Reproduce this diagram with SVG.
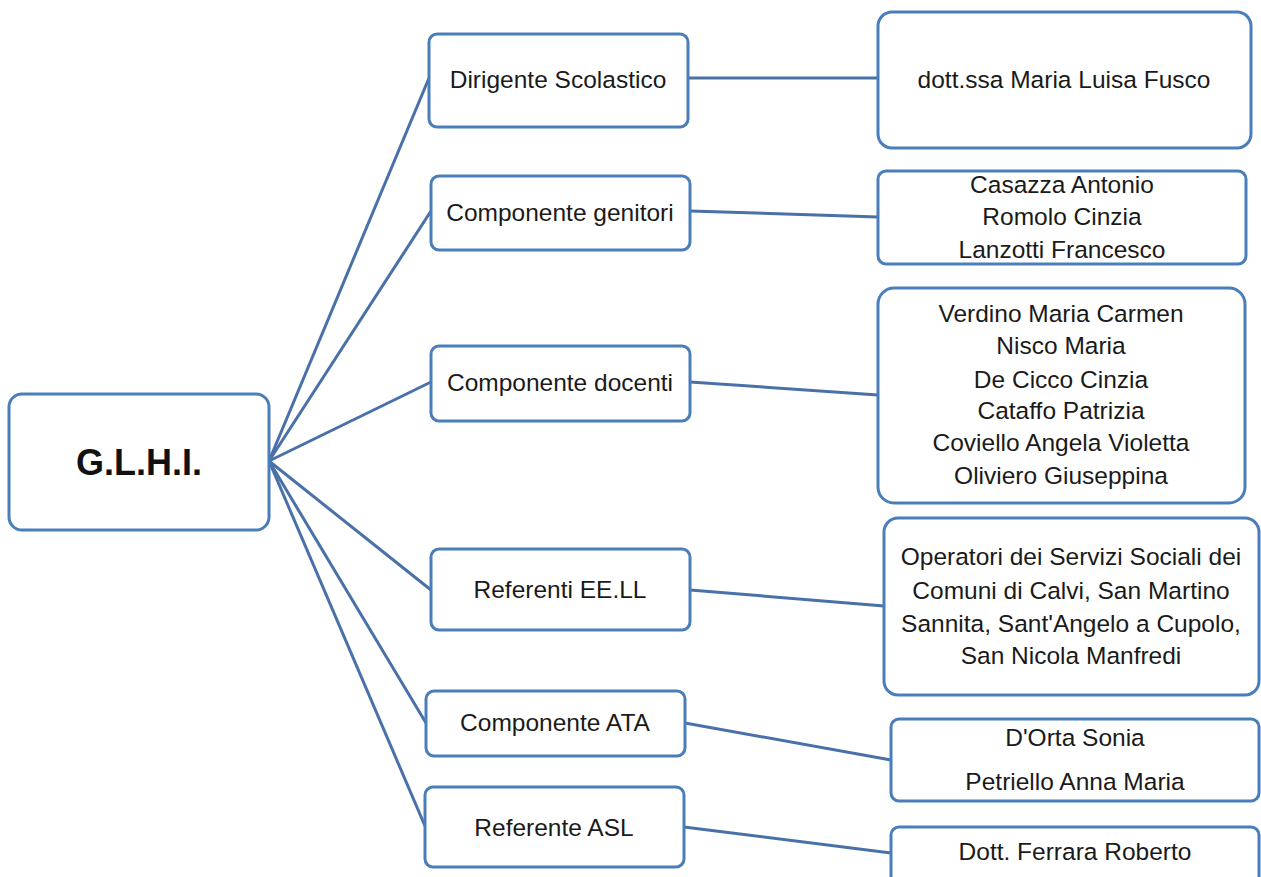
<svg xmlns="http://www.w3.org/2000/svg" width="1261" height="877" viewBox="0 0 1261 877">
<style>
.box{fill:#fff;stroke:#4a7ebb;stroke-width:3}
.con{stroke:#4a70a8;stroke-width:3;fill:none}
text{font-family:"Liberation Sans",Arial,sans-serif;font-size:24.5px;fill:#1a1a1a;text-anchor:middle}
.root{font-size:36px;font-weight:bold;fill:#111}
</style>
<rect width="1261" height="877" fill="#fff"/>
<g id="connectors">
<line class="con" x1="269" y1="461" x2="429" y2="78"/>
<line class="con" x1="269" y1="461" x2="431" y2="211"/>
<line class="con" x1="269" y1="461" x2="431" y2="382"/>
<line class="con" x1="269" y1="461" x2="431" y2="590"/>
<line class="con" x1="269" y1="461" x2="426" y2="723"/>
<line class="con" x1="269" y1="461" x2="425" y2="826"/>
<line class="con" x1="688" y1="78" x2="878" y2="78"/>
<line class="con" x1="690" y1="211" x2="878" y2="217"/>
<line class="con" x1="690" y1="382" x2="878" y2="395"/>
<line class="con" x1="690" y1="590" x2="884" y2="606"/>
<line class="con" x1="685" y1="723" x2="891" y2="760"/>
<line class="con" x1="684" y1="827" x2="891" y2="853"/>
</g>
<g id="root">
<rect class="box" x="9" y="394" width="260" height="136" rx="13"/>
<text class="root" x="139" y="475">G.L.H.I.</text>
</g>
<g id="dirigente">
<rect class="box" x="429" y="34" width="259" height="93" rx="8"/>
<text x="558" y="88">Dirigente Scolastico</text>
</g>
<g id="genitori">
<rect class="box" x="431" y="176" width="259" height="74" rx="8"/>
<text x="560" y="221">Componente genitori</text>
</g>
<g id="docenti">
<rect class="box" x="431" y="346" width="259" height="75" rx="8"/>
<text x="560" y="391">Componente docenti</text>
</g>
<g id="eell">
<rect class="box" x="431" y="549" width="259" height="81" rx="8"/>
<text x="560" y="598">Referenti EE.LL</text>
</g>
<g id="ata">
<rect class="box" x="426" y="691" width="259" height="65" rx="8"/>
<text x="555" y="731">Componente ATA</text>
</g>
<g id="asl">
<rect class="box" x="425" y="787" width="259" height="80" rx="8"/>
<text x="554" y="836">Referente ASL</text>
</g>
<g id="fusco">
<rect class="box" x="878" y="12" width="373" height="136" rx="14"/>
<text x="1064" y="88">dott.ssa Maria Luisa Fusco</text>
</g>
<g id="genitori-nomi">
<rect class="box" x="878" y="171" width="368" height="93" rx="8"/>
<text x="1062" y="193">Casazza Antonio</text>
<text x="1062" y="225">Romolo Cinzia</text>
<text x="1062" y="258">Lanzotti Francesco</text>
</g>
<g id="docenti-nomi">
<rect class="box" x="878" y="288" width="367" height="215" rx="16"/>
<text x="1061" y="322">Verdino Maria Carmen</text>
<text x="1061" y="354">Nisco Maria</text>
<text x="1061" y="388">De Cicco Cinzia</text>
<text x="1061" y="419">Cataffo Patrizia</text>
<text x="1061" y="451">Coviello Angela Violetta</text>
<text x="1061" y="484">Oliviero Giuseppina</text>
</g>
<g id="eell-nomi">
<rect class="box" x="884" y="518" width="375" height="177" rx="14"/>
<text x="1071" y="565">Operatori dei Servizi Sociali dei</text>
<text x="1071" y="599">Comuni di Calvi, San Martino</text>
<text x="1071" y="632">Sannita, Sant'Angelo a Cupolo,</text>
<text x="1071" y="664">San Nicola Manfredi</text>
</g>
<g id="ata-nomi">
<rect class="box" x="891" y="719" width="368" height="82" rx="8"/>
<text x="1075" y="746">D'Orta Sonia</text>
<text x="1075" y="790">Petriello Anna Maria</text>
</g>
<g id="asl-nomi">
<rect class="box" x="891" y="827" width="368" height="70" rx="8"/>
<text x="1075" y="860">Dott. Ferrara Roberto</text>
</g>
</svg>
